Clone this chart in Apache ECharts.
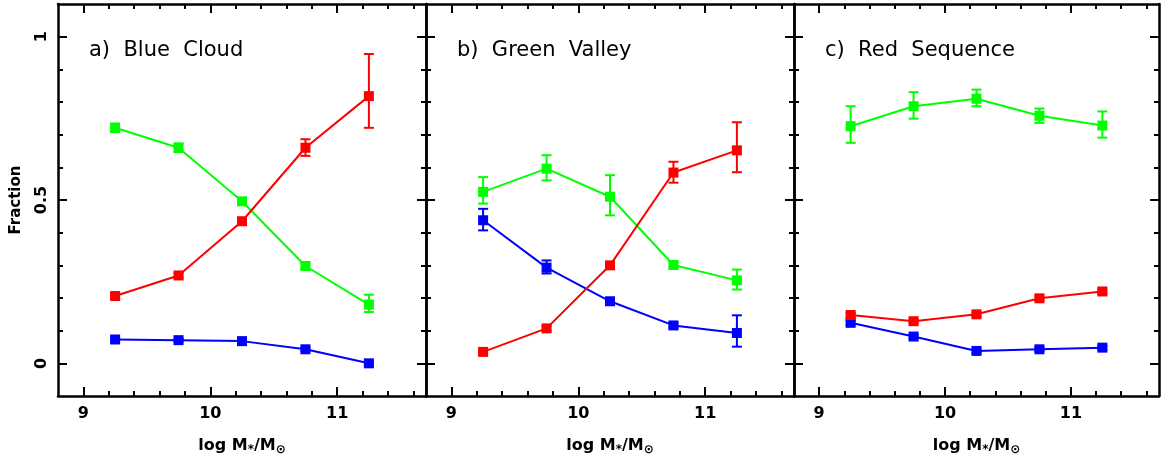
<!DOCTYPE html>
<html>
<head>
<meta charset="utf-8">
<script src="https://cdn.jsdelivr.net/npm/echarts@6/dist/echarts.min.js"></script>
<style>
html, body { margin: 0; padding: 0; background: #fff; }
#chart { width: 1161px; height: 464px; }
</style>
</head>
<body>
<div id="chart"></div>
<script>
// stellar mass bins (log M*/Msun)
var massBins = [9.25, 9.75, 10.25, 10.75, 11.25];
var panelTitles = ['a)  Blue  Cloud', 'b)  Green  Valley', 'c)  Red  Sequence'];

var xMajorTicks = [9, 10, 11];
var xMinorTicks = [9.2, 9.4, 9.6, 9.8, 10.2, 10.4, 10.6, 10.8, 11.2, 11.4, 11.6];
var yMajorTicks = [0, 0.5, 1];
var yMinorTicks = [0.1, 0.2, 0.3, 0.4, 0.6, 0.7, 0.8, 0.9];
var yTickLabels = ['0', '0.5', '1'];

// a) Blue Cloud
var bcRed = [0.206, 0.269, 0.435, 0.660, 0.818];
var bcRedErr = [[0.198, 0.214], [0.261, 0.277], [0.427, 0.443], [0.635, 0.686], [0.721, 0.947]];
var bcGreen = [0.721, 0.660, 0.496, 0.298, 0.180];
var bcGreenErr = [[0.708, 0.734], [0.647, 0.673], [0.486, 0.506], [0.290, 0.306], [0.157, 0.210]];
var bcBlue = [0.073, 0.071, 0.068, 0.043, 0.000];
var bcBlueErr = [[0.068, 0.078], [0.066, 0.076], [0.063, 0.073], [0.038, 0.048], [-0.005, 0.005]];

// b) Green Valley
var gvRed = [0.035, 0.107, 0.300, 0.584, 0.652];
var gvRedErr = [[0.030, 0.040], [0.100, 0.114], [0.290, 0.310], [0.553, 0.617], [0.585, 0.738]];
var gvGreen = [0.525, 0.596, 0.510, 0.301, 0.254];
var gvGreenErr = [[0.489, 0.570], [0.560, 0.637], [0.453, 0.576], [0.291, 0.311], [0.226, 0.287]];
var gvBlue = [0.438, 0.293, 0.190, 0.116, 0.093];
var gvBlueErr = [[0.407, 0.473], [0.275, 0.315], [0.183, 0.197], [0.109, 0.123], [0.051, 0.147]];

// c) Red Sequence
var rsRed = [0.148, 0.129, 0.150, 0.199, 0.220];
var rsRedErr = [[0.142, 0.154], [0.123, 0.135], [0.144, 0.156], [0.193, 0.205], [0.214, 0.226]];
var rsGreen = [0.726, 0.787, 0.810, 0.758, 0.728];
var rsGreenErr = [[0.675, 0.787], [0.749, 0.830], [0.787, 0.838], [0.736, 0.780], [0.691, 0.771]];
var rsBlue = [0.124, 0.082, 0.038, 0.043, 0.048];
var rsBlueErr = [[0.118, 0.130], [0.076, 0.088], [0.032, 0.044], [0.037, 0.049], [0.042, 0.054]];

var RED = '#ff0000', GREEN = '#00ff00', BLUE = '#0000ff';
var FONT = 'DejaVu Sans';

var panels = [
	{ left: 58, width: 368, lines: [[bcBlue, bcBlueErr, BLUE], [bcGreen, bcGreenErr, GREEN], [bcRed, bcRedErr, RED]] },
	{ left: 426, width: 368, lines: [[gvBlue, gvBlueErr, BLUE], [gvGreen, gvGreenErr, GREEN], [gvRed, gvRedErr, RED]] },
	{ left: 794, width: 365, lines: [[rsBlue, rsBlueErr, BLUE], [rsGreen, rsGreenErr, GREEN], [rsRed, rsRedErr, RED]] }
];

var grids = [], xAxes = [], yAxes = [], series = [], titles = [];

function xAxisDef(p, pos, ticks, len, main) {
	return {
		type: 'value', gridIndex: p, position: pos,
		min: 8.8, max: 11.7,
		axisLine: { show: main, onZero: false, lineStyle: { color: '#000', width: 2.5 } },
		axisTick: { show: true, inside: true, length: len, customValues: ticks, lineStyle: { color: '#000', width: 2 } },
		axisLabel: { show: main && pos === 'bottom', customValues: xMajorTicks, margin: 10,
			color: '#000', fontFamily: FONT, fontWeight: 'bold', fontSize: 16 },
		splitLine: { show: false },
		name: (main && pos === 'bottom') ? 'log M{sub|*}/M{sub|⊙}' : '',
		nameLocation: 'middle', nameGap: 40,
		nameTextStyle: { color: '#000', fontFamily: FONT, fontWeight: 'bold', fontSize: 16,
			rich: { sub: { fontFamily: FONT, fontWeight: 'bold', fontSize: 12, verticalAlign: 'bottom', padding: [8, 0, 0, 0] } } }
	};
}

function yAxisDef(p, pos, ticks, len, main) {
	var labels = main && pos === 'left' && p === 0;
	return {
		type: 'value', gridIndex: p, position: pos,
		min: -0.1, max: 1.1,
		axisLine: { show: main, onZero: false, lineStyle: { color: '#000', width: 2.5 } },
		axisTick: { show: true, inside: true, length: len, customValues: ticks, lineStyle: { color: '#000', width: 2 } },
		axisLabel: { show: labels, customValues: yMajorTicks, rotate: 90, margin: 8,
			formatter: function (v) { return yTickLabels[yMajorTicks.indexOf(Math.round(v * 10) / 10)]; },
			color: '#000', fontFamily: FONT, fontWeight: 'bold', fontSize: 16 },
		splitLine: { show: false },
		name: labels ? 'Fraction' : '',
		nameLocation: 'middle', nameRotate: 90, nameGap: 34,
		nameTextStyle: { color: '#000', fontFamily: FONT, fontWeight: 'bold', fontSize: 15 }
	};
}

function errorBars(p, errs, color) {
	return {
		type: 'custom', xAxisIndex: 4 * p, yAxisIndex: 4 * p, z: 2,
		data: massBins.map(function (x, i) { return [x, errs[i][0], errs[i][1]]; }),
		renderItem: function (params, api) {
			var lo = api.coord([api.value(0), api.value(1)]);
			var hi = api.coord([api.value(0), api.value(2)]);
			var w = 5;
			var st = { stroke: color, lineWidth: 2 };
			return {
				type: 'group',
				children: [
					{ type: 'line', shape: { x1: lo[0], y1: lo[1], x2: hi[0], y2: hi[1] }, style: st },
					{ type: 'line', shape: { x1: lo[0] - w, y1: lo[1], x2: lo[0] + w, y2: lo[1] }, style: st },
					{ type: 'line', shape: { x1: hi[0] - w, y1: hi[1], x2: hi[0] + w, y2: hi[1] }, style: st }
				]
			};
		}
	};
}

panels.forEach(function (pn, p) {
	grids.push({ left: pn.left, top: 4, width: pn.width, height: 392, containLabel: false });
	xAxes.push(xAxisDef(p, 'bottom', xMajorTicks, 9, true));
	xAxes.push(xAxisDef(p, 'bottom', xMinorTicks, 5, false));
	xAxes.push(xAxisDef(p, 'top', xMajorTicks, 9, true));
	xAxes.push(xAxisDef(p, 'top', xMinorTicks, 5, false));
	yAxes.push(yAxisDef(p, 'left', yMajorTicks, 9, true));
	yAxes.push(yAxisDef(p, 'left', yMinorTicks, 5, false));
	yAxes.push(yAxisDef(p, 'right', yMajorTicks, 9, true));
	yAxes.push(yAxisDef(p, 'right', yMinorTicks, 5, false));

	pn.lines.forEach(function (ln) {
		series.push(errorBars(p, ln[1], ln[2]));
		series.push({
			type: 'line', xAxisIndex: 4 * p, yAxisIndex: 4 * p, z: 3,
			data: massBins.map(function (x, i) { return [x, ln[0][i]]; }),
			symbol: 'rect', symbolSize: 10, showSymbol: true,
			itemStyle: { color: ln[2] },
			lineStyle: { color: ln[2], width: 2 },
			emphasis: { disabled: true }
		});
	});

	titles.push({
		text: panelTitles[p], left: pn.left + 26, top: 35,
		textStyle: { color: '#000', fontFamily: FONT, fontWeight: 'normal', fontSize: 21 }
	});
});

var chart = echarts.init(document.getElementById('chart'), null, { renderer: 'canvas' });
chart.setOption({
	animation: false,
	backgroundColor: '#fff',
	title: titles,
	grid: grids,
	xAxis: xAxes,
	yAxis: yAxes,
	series: series
});
</script>
</body>
</html>
